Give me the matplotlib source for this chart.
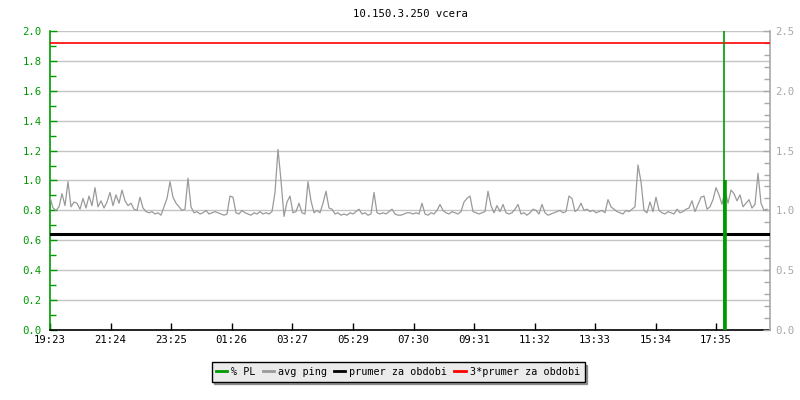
import numpy as np
import matplotlib
matplotlib.use("Agg")
import matplotlib.pyplot as plt
from matplotlib.ticker import MultipleLocator

# avg ping (ms, right axis), one sample every 6 minutes from 19:23
avg_ping = [
    1.11, 1.02, 1.00, 1.03, 1.14, 1.04, 1.24, 1.03, 1.07, 1.06,
    1.01, 1.10, 1.02, 1.12, 1.04, 1.19, 1.03, 1.08, 1.02, 1.07,
    1.15, 1.04, 1.13, 1.06, 1.17, 1.08, 1.04, 1.06, 1.01, 1.00,
    1.11, 1.02, 0.99, 0.98, 0.99, 0.97, 0.98, 0.96, 1.03, 1.10,
    1.24, 1.11, 1.06, 1.03, 1.00, 1.01, 1.27, 1.03, 0.98, 0.99,
    0.97, 0.98, 1.00, 0.97, 0.98, 0.99, 0.98, 0.97, 0.96, 0.97,
    1.12, 1.11, 0.98, 0.97, 1.00, 0.98, 0.97, 0.96, 0.98, 0.97,
    0.99, 0.97, 0.98, 0.97, 0.99, 1.15, 1.51, 1.25, 0.95, 1.07,
    1.12, 0.98, 0.99, 1.06, 0.98, 0.97, 1.24, 1.08, 0.98, 1.00,
    0.98, 1.06, 1.16, 1.02, 1.01, 0.97, 0.98, 0.96, 0.97, 0.96,
    0.98, 0.97, 0.99, 1.01, 0.97, 0.98, 0.96, 0.97, 1.15, 0.98,
    0.97, 0.98, 0.97, 0.99, 1.01, 0.97, 0.96, 0.96, 0.97, 0.98,
    0.98, 0.97, 0.98, 0.97, 1.06, 0.97, 0.96, 0.98, 0.97, 1.00,
    1.05, 1.00, 0.98, 0.97, 0.99, 0.98, 0.97, 0.99, 1.07, 1.10,
    1.12, 0.99, 0.98, 0.97, 0.98, 0.99, 1.16, 1.04, 0.98, 1.04,
    0.99, 1.05, 0.98, 0.97, 0.98, 1.01, 1.05, 0.97, 0.98, 0.96,
    0.98, 1.01, 1.00, 0.97, 1.05, 0.98, 0.96, 0.97, 0.98, 0.99,
    1.00, 0.98, 0.99, 1.12, 1.10, 0.99, 1.01, 1.06, 1.00, 1.01,
    0.99, 1.00, 0.98, 0.99, 1.00, 0.98, 1.09, 1.03, 1.01, 0.99,
    0.98, 0.97, 1.00, 0.99, 1.01, 1.03, 1.38, 1.24, 1.00, 0.98,
    1.07, 0.99, 1.11, 1.00, 0.98, 0.97, 0.99, 0.98, 0.97, 1.01,
    0.98, 0.99, 1.01, 1.02, 1.08, 0.99, 1.05, 1.11, 1.12, 1.01,
    1.03, 1.09, 1.19, 1.13, 1.05, 1.17, 1.06, 1.17, 1.14, 1.08,
    1.13, 1.03, 1.06, 1.09, 1.02, 1.05, 1.31, 1.06, 1.00, 1.01,
]
sample_step = 6  # minutes

# packet loss (left axis), only non-zero samples
pl_minutes = [1347, 1349]
pl_values = [3.0, 1.0]

prumer = 0.8
prumer3 = 2.4

tick_minutes = [0, 121, 242, 363, 484, 606, 727, 848, 969, 1090, 1211, 1332]
tick_labels = ["19:23", "21:24", "23:25", "01:26", "03:27", "05:29",
               "07:30", "09:31", "11:32", "13:33", "15:34", "17:35"]

GREEN = "#009a00"
GRAY = "#9a9a9a"
AXGRAY = "#a8a8a8"
FONT = "DejaVu Sans Mono"
FS = 7.2

plt.rcParams["font.family"] = FONT

fig = plt.figure(figsize=(8, 4), dpi=100)
ax = fig.add_axes([0.0625, 0.175, 0.9, 0.7475])
ax2 = ax.twinx()

x = np.arange(len(avg_ping)) * sample_step

ax2.plot(x, avg_ping, color=GRAY, lw=0.9, zorder=2)
ax2.axhline(prumer, color="black", lw=2.2, zorder=3)
ax2.axhline(prumer3, color="#ff0000", lw=1.2, zorder=3)
ax2.vlines(pl_minutes[0], 0, pl_values[0], color=GREEN, lw=1.2, zorder=4, transform=ax.transData)
ax2.vlines(pl_minutes[1], 0, pl_values[1], color=GREEN, lw=2.6, zorder=4, transform=ax.transData)

ax.set_xlim(0, 1440)
ax.set_ylim(0, 2.0)
ax2.set_ylim(0, 2.5)

# left axis (green)
ax.yaxis.set_major_locator(MultipleLocator(0.2))
ax.yaxis.set_minor_locator(MultipleLocator(0.1))
ax.yaxis.set_major_formatter(plt.FormatStrFormatter("%.1f"))
ax.tick_params(axis="y", which="both", direction="in", colors=GREEN, labelsize=FS + 0.5, pad=6)
ax.tick_params(axis="y", which="major", length=5, width=1)
ax.tick_params(axis="y", which="minor", length=4, width=1)
ax.grid(axis="y", which="major", color="#c4c4c4", lw=1)
ax.set_axisbelow(True)

# right axis (gray)
ax2.yaxis.set_major_locator(MultipleLocator(0.5))
ax2.yaxis.set_minor_locator(MultipleLocator(0.1))
ax2.yaxis.set_major_formatter(plt.FormatStrFormatter("%.1f"))
ax2.tick_params(axis="y", which="both", direction="in", colors=AXGRAY, labelsize=FS + 0.5, pad=4)
ax2.tick_params(axis="y", which="major", length=5, width=1)
ax2.tick_params(axis="y", which="minor", length=4, width=1)

# x axis
ax.set_xticks(tick_minutes)
ax.set_xticklabels(tick_labels)
ax.tick_params(axis="x", direction="in", length=5, width=1, colors="black", labelsize=FS + 0.5, pad=3.5)

for a in (ax, ax2):
    a.spines["top"].set_visible(False)
ax.spines["left"].set_color(GREEN)
ax.spines["right"].set_visible(False)
ax2.spines["left"].set_visible(False)
ax2.spines["bottom"].set_visible(False)
ax2.spines["right"].set_color(AXGRAY)
ax.spines["bottom"].set_color("black")
for s in ("left", "bottom"):
    ax.spines[s].set_linewidth(1.2)
ax2.spines["right"].set_linewidth(1.2)

fig.text(0.5125, 1 - 14 / 400, "10.150.3.250 vcera", ha="center", va="center", fontsize=FS + 0.5)

handles = [
    plt.Line2D([], [], color=GREEN, lw=2),
    plt.Line2D([], [], color=GRAY, lw=2),
    plt.Line2D([], [], color="black", lw=2),
    plt.Line2D([], [], color="#ff0000", lw=2),
]
labels = ["% PL", "avg ping", "prumer za obdobi", "3*prumer za obdobi"]
leg = fig.legend(handles, labels, loc="center", bbox_to_anchor=(0.4975, 0.07), ncol=4,
                 fontsize=FS + 0.1, frameon=True, fancybox=False, shadow=True,
                 facecolor="#ebebeb", edgecolor="black", handlelength=1.1,
                 handletextpad=0.4, columnspacing=0.7, borderpad=0.45)
leg.get_frame().set_linewidth(1)
leg.get_frame().set_alpha(1)

fig.savefig("out.png", dpi=100)
